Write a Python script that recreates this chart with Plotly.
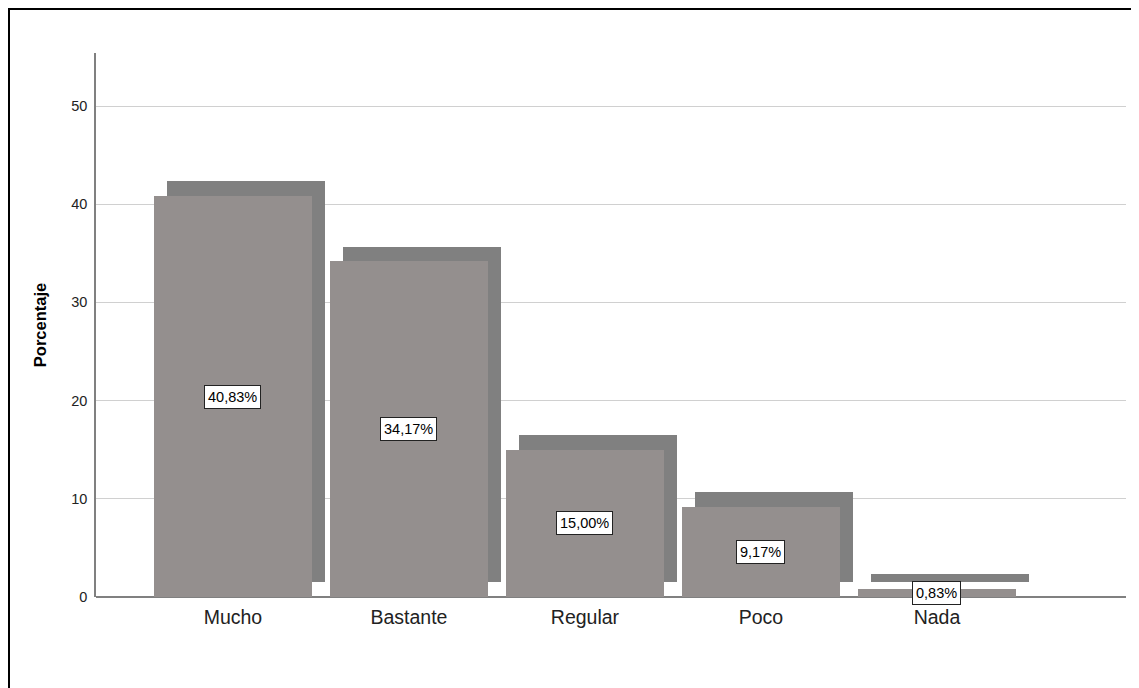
import plotly.graph_objects as go

categories = ["Mucho", "Bastante", "Regular", "Poco", "Nada"]
percentages = [40.83, 34.17, 15.00, 9.17, 0.83]
label_texts = ["40,83%", "34,17%", "15,00%", "9,17%", "0,83%"]
y_ticks = [0, 10, 20, 30, 40, 50]

# page is shown with an 8px body margin, so figure coords = screen coords - 8
OFF = 8
W, H = 1139, 688
L, R, T, B = 96 - OFF, 21, 53 - OFF, 99
pw, ph = W - L - R, H - T - B

x_range = [-0.778, 5.074]
y_range = [0, 55.4]
bar_w = 0.898
shadow_dx = 0.074
shadow_lift = 1.5

idx = list(range(len(categories)))

fig = go.Figure()
fig.add_trace(go.Bar(
    x=[i + shadow_dx for i in idx], y=percentages, base=[shadow_lift] * len(idx),
    width=bar_w, marker=dict(color="#808080", line=dict(width=0)),
    hoverinfo="skip", showlegend=False))
fig.add_trace(go.Bar(
    x=idx, y=percentages, width=bar_w,
    marker=dict(color="#948f8e", line=dict(width=0)),
    showlegend=False))

for i, v, t in zip(idx, percentages, label_texts):
    fig.add_annotation(x=i, y=v / 2, text=t, showarrow=False,
                       font=dict(family="Arial, Liberation Sans", size=14.5, color="#000"),
                       bgcolor="white", bordercolor="#222", borderwidth=1, borderpad=3)

# outer frame
fig.add_shape(type="rect", xref="paper", yref="paper",
              x0=(9 - OFF - L) / pw, x1=(1137 - OFF - L) / pw,
              y0=(H - B - 700) / ph, y1=(H - B - (8 - OFF) - 1) / ph,
              line=dict(color="black", width=2), fillcolor="rgba(0,0,0,0)", layer="below")

fig.update_layout(
    width=W, height=H, margin=dict(l=L, r=R, t=T, b=B),
    paper_bgcolor="white", plot_bgcolor="white",
    barmode="overlay", bargap=0,
    font=dict(family="Arial, Liberation Sans", color="#000"),
    xaxis=dict(range=x_range, tickvals=idx, ticktext=categories,
               tickfont=dict(size=19.5, color="#222"), showgrid=False, zeroline=False,
               showline=False, ticks="", fixedrange=True, ticklabelstandoff=6),
    yaxis=dict(range=y_range, tickvals=y_ticks, tickfont=dict(size=14.5, color="#222"),
               showgrid=True, gridcolor="#d0d0d0", gridwidth=1,
               zeroline=True, zerolinecolor="#808080", zerolinewidth=1.5,
               showline=True, linecolor="#808080", linewidth=1.5,
               ticks="", ticklen=0, ticklabelstandoff=4,
               title=dict(text="<b>Porcentaje</b>", font=dict(size=16.5, color="#000"), standoff=20)),
)
fig.write_html("out.html")
